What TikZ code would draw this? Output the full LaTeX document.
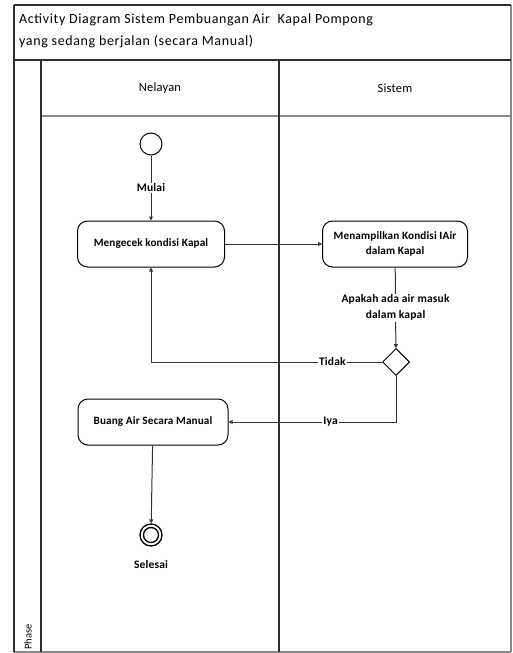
\documentclass[tikz,border=0pt]{standalone}
\usepackage{fontspec}
\setmainfont{Carlito}
\usetikzlibrary{arrows.meta,shapes.geometric}

\definecolor{framec}{HTML}{2E2E2E}
\definecolor{gridc}{HTML}{888888}
\definecolor{linec}{HTML}{333333}

\tikzset{
  frameline/.style={draw=framec, line width=1.3pt},
  gridline/.style={draw=gridc, line width=1.1pt},
  action/.style={draw=black, rounded corners=10pt, line width=1pt,
    minimum width=147pt, minimum height=46pt, align=center,
    font=\fontsize{11.2}{15}\selectfont\bfseries\addfontfeatures{LetterSpace=1.2}, inner sep=2pt},
  startnode/.style={circle, draw=black, line width=1pt, minimum size=22pt, inner sep=0pt},
  endnode/.style={circle, draw=black, line width=1.3pt, minimum size=22pt, inner sep=0pt},
  decision/.style={diamond, draw=black, line width=1pt, minimum width=27pt,
    minimum height=27pt, inner sep=0pt},
  flow/.style={draw=linec, line width=1pt,
    -{Triangle[open, length=4pt, width=4pt]}},
  lbl/.style={fill=white, inner sep=1pt, text=black,
    font=\fontsize{11.5}{16}\selectfont\bfseries\addfontfeatures{LetterSpace=1.5}, align=center},
  header/.style={font=\fontsize{12.5}{15}\selectfont\addfontfeatures{LetterSpace=1.5}},
}

\begin{document}
\begin{tikzpicture}[x=1pt, y=-1pt]
  \useasboundingbox (0,0) rectangle (512,653);
  \fill[white] (0,0) rectangle (512,653);

  % swimlane frame
  \draw[gridline] (41,116) -- (511,116);
  \draw[gridline] (511,5) -- (511,652);
  \draw[gridline] (14,652) -- (511,652);
  \draw[frameline] (14,60) -- (511,60);
  \draw[frameline] (14,5) -- (511,5);
  \draw[frameline] (14,5) -- (14,652);
  \draw[frameline] (41,60) -- (41,652);
  \draw[frameline] (279,60) -- (279,652);

  % title and lane headers
  \node[anchor=north west, align=left, inner sep=0pt,
        font=\fontsize{14}{22}\selectfont\addfontfeatures{LetterSpace=4.5}] (title) at (19,14)
        {Activity Diagram Sistem Pembuangan Air\ \ Kapal Pompong\\yang sedang berjalan (secara Manual)};
  \node[header] (lane1) at (160,88) {Nelayan};
  \node[header] (lane2) at (395,88) {Sistem};
  \node[rotate=90, anchor=west, inner sep=0pt,
        font=\fontsize{10.5}{12}\selectfont] (phase) at (28,650) {Phase};

  % activity nodes
  \node[startnode] (start) at (151,144) {};
  \node[action] (check) at (151,244) {Mengecek kondisi Kapal};
  \node[action, minimum width=145pt] (show) at (395,244) {Menampilkan Kondisi IAir\\dalam Kapal};
  \node[decision] (dec) at (396,362) {};
  \node[action, minimum width=150pt] (manual) at (153,422) {Buang Air Secara Manual};
  \node[endnode] (stop) at (151,535) {};
  \draw[black, line width=1.3pt] (stop.center) circle[radius=7.5pt];
  \node[lbl, fill=none] (endlbl) at (151,564) {Selesai};

  % control flow
  \draw[flow] (start) -- node[lbl]{Mulai} (check);
  \draw[flow] (check) -- (show);
  \draw[flow] (show) -- node[lbl, pos=0.5]{Apakah ada air masuk\\dalam kapal} (dec);
  \draw[flow] (dec.west) -- node[lbl, pos=0.215]{Tidak} (check.south |- dec.west) -- (check.south);
  \draw[flow] (dec.south) -- (dec.south |- manual.east) -- node[lbl, pos=0.39]{Iya} (manual.east);
  \draw[flow] (manual) -- (stop);
\end{tikzpicture}
\end{document}
